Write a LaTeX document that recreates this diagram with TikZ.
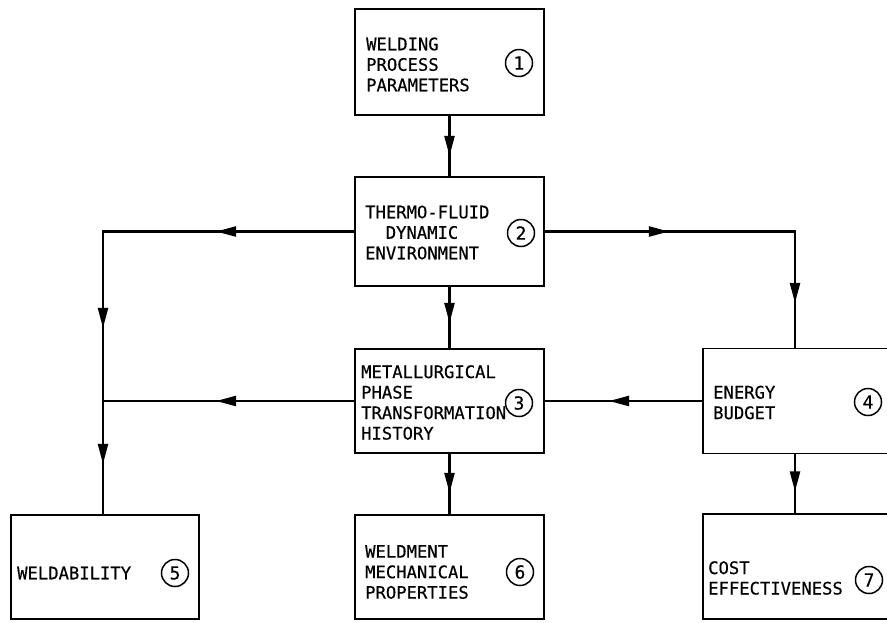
\documentclass[tikz,border=0pt]{standalone}
\usepackage{fontspec}
\setmonofont[FakeBold=0.4]{DejaVu Sans Mono}
\usetikzlibrary{arrows.meta,decorations.markings}
\tikzset{
  boxnode/.style={draw, line width=1.9pt, rectangle, inner sep=0pt},
  lbl/.style={anchor=west, align=left, inner sep=0pt, font=\ttfamily\fontsize{17.2}{20.5}\selectfont},
  num/.style={draw, circle, line width=1.5pt, minimum size=27pt, inner sep=0pt, font=\ttfamily\fontsize{18}{18}\selectfont},
  conn/.style={line width=2.3pt},
  tipat/.style={postaction={decorate, decoration={markings, mark=at position #1 with {\arrow{Triangle[length=20pt,width=10pt]}}}}}
}
\begin{document}
\begin{tikzpicture}[x=1pt,y=-1pt]
\useasboundingbox (0,0) rectangle (887,622);
\clip (0,0) rectangle (887,622);
% boxes
\node[boxnode, minimum width=189pt, minimum height=106pt] (b1) at (449.5,62) {};
\node[boxnode, minimum width=189pt, minimum height=109pt] (b2) at (449.5,231.5) {};
\node[boxnode, minimum width=189pt, minimum height=104pt] (b3) at (449.5,401) {};
\node[boxnode, minimum width=197pt, minimum height=105pt] (b4) at (801.5,401) {};
\node[boxnode, minimum width=188pt, minimum height=104pt] (b5) at (105,567) {};
\node[boxnode, minimum width=189pt, minimum height=104pt] (b6) at (449.5,567) {};
\node[boxnode, minimum width=197pt, minimum height=105pt] (b7) at (801.5,566.5) {};
% labels
\node[lbl] (t1) at (366,64.5) {WELDING\\PROCESS\\PARAMETERS};
\node[lbl] (t2) at (365,232.5) {THERMO-FLUID\\\hspace*{20.6pt}DYNAMIC\\ENVIRONMENT};
\node[lbl] (t3) at (361,402.5) {METALLURGICAL\\PHASE\\TRANSFORMATION\\HISTORY};
\node[lbl] (t4) at (713,402.5) {ENERGY\\BUDGET};
\node[lbl] (t5) at (17,573) {WELDABILITY};
\node[lbl] (t6) at (365,572) {WELDMENT\\MECHANICAL\\PROPERTIES};
\node[lbl] (t7) at (708,578) {COST\\EFFECTIVENESS};
% numbers
\node[num] (c1) at (519,63) {1};
\node[num] (c2) at (521,233) {2};
\node[num] (c3) at (519,403) {3};
\node[num] (c4) at (868,402) {4};
\node[num] (c5) at (175,573) {5};
\node[num] (c6) at (520,572) {6};
\node[num] (c7) at (869,580) {7};
% guide coordinates
\coordinate (L) at (103,0);
\coordinate (R) at (795,0);
% connectors
\draw[conn, tipat=40pt] (b1.south) -- (b2.north);
\draw[conn, tipat=36pt] (b2.south) -- (b3.north);
\draw[conn, tipat=39pt] (b3.south) -- (b6.north);
\draw[conn, tipat=138pt, tipat=347.5pt, tipat=483.5pt] (b2.west) -- (b2.west -| L) -- (L |- b5.north);
\draw[conn, tipat=138pt] (b3.west) -- (b3.west -| L);
\draw[conn, tipat=124pt, tipat=321.5pt] (b2.east) -- (b2.east -| R) -- (R |- b4.north);
\draw[conn, tipat=93pt] (b4.west) -- (b3.east);
\draw[conn, tipat=37pt] (R |- b4.south) -- (R |- b7.north);
\end{tikzpicture}
\end{document}
